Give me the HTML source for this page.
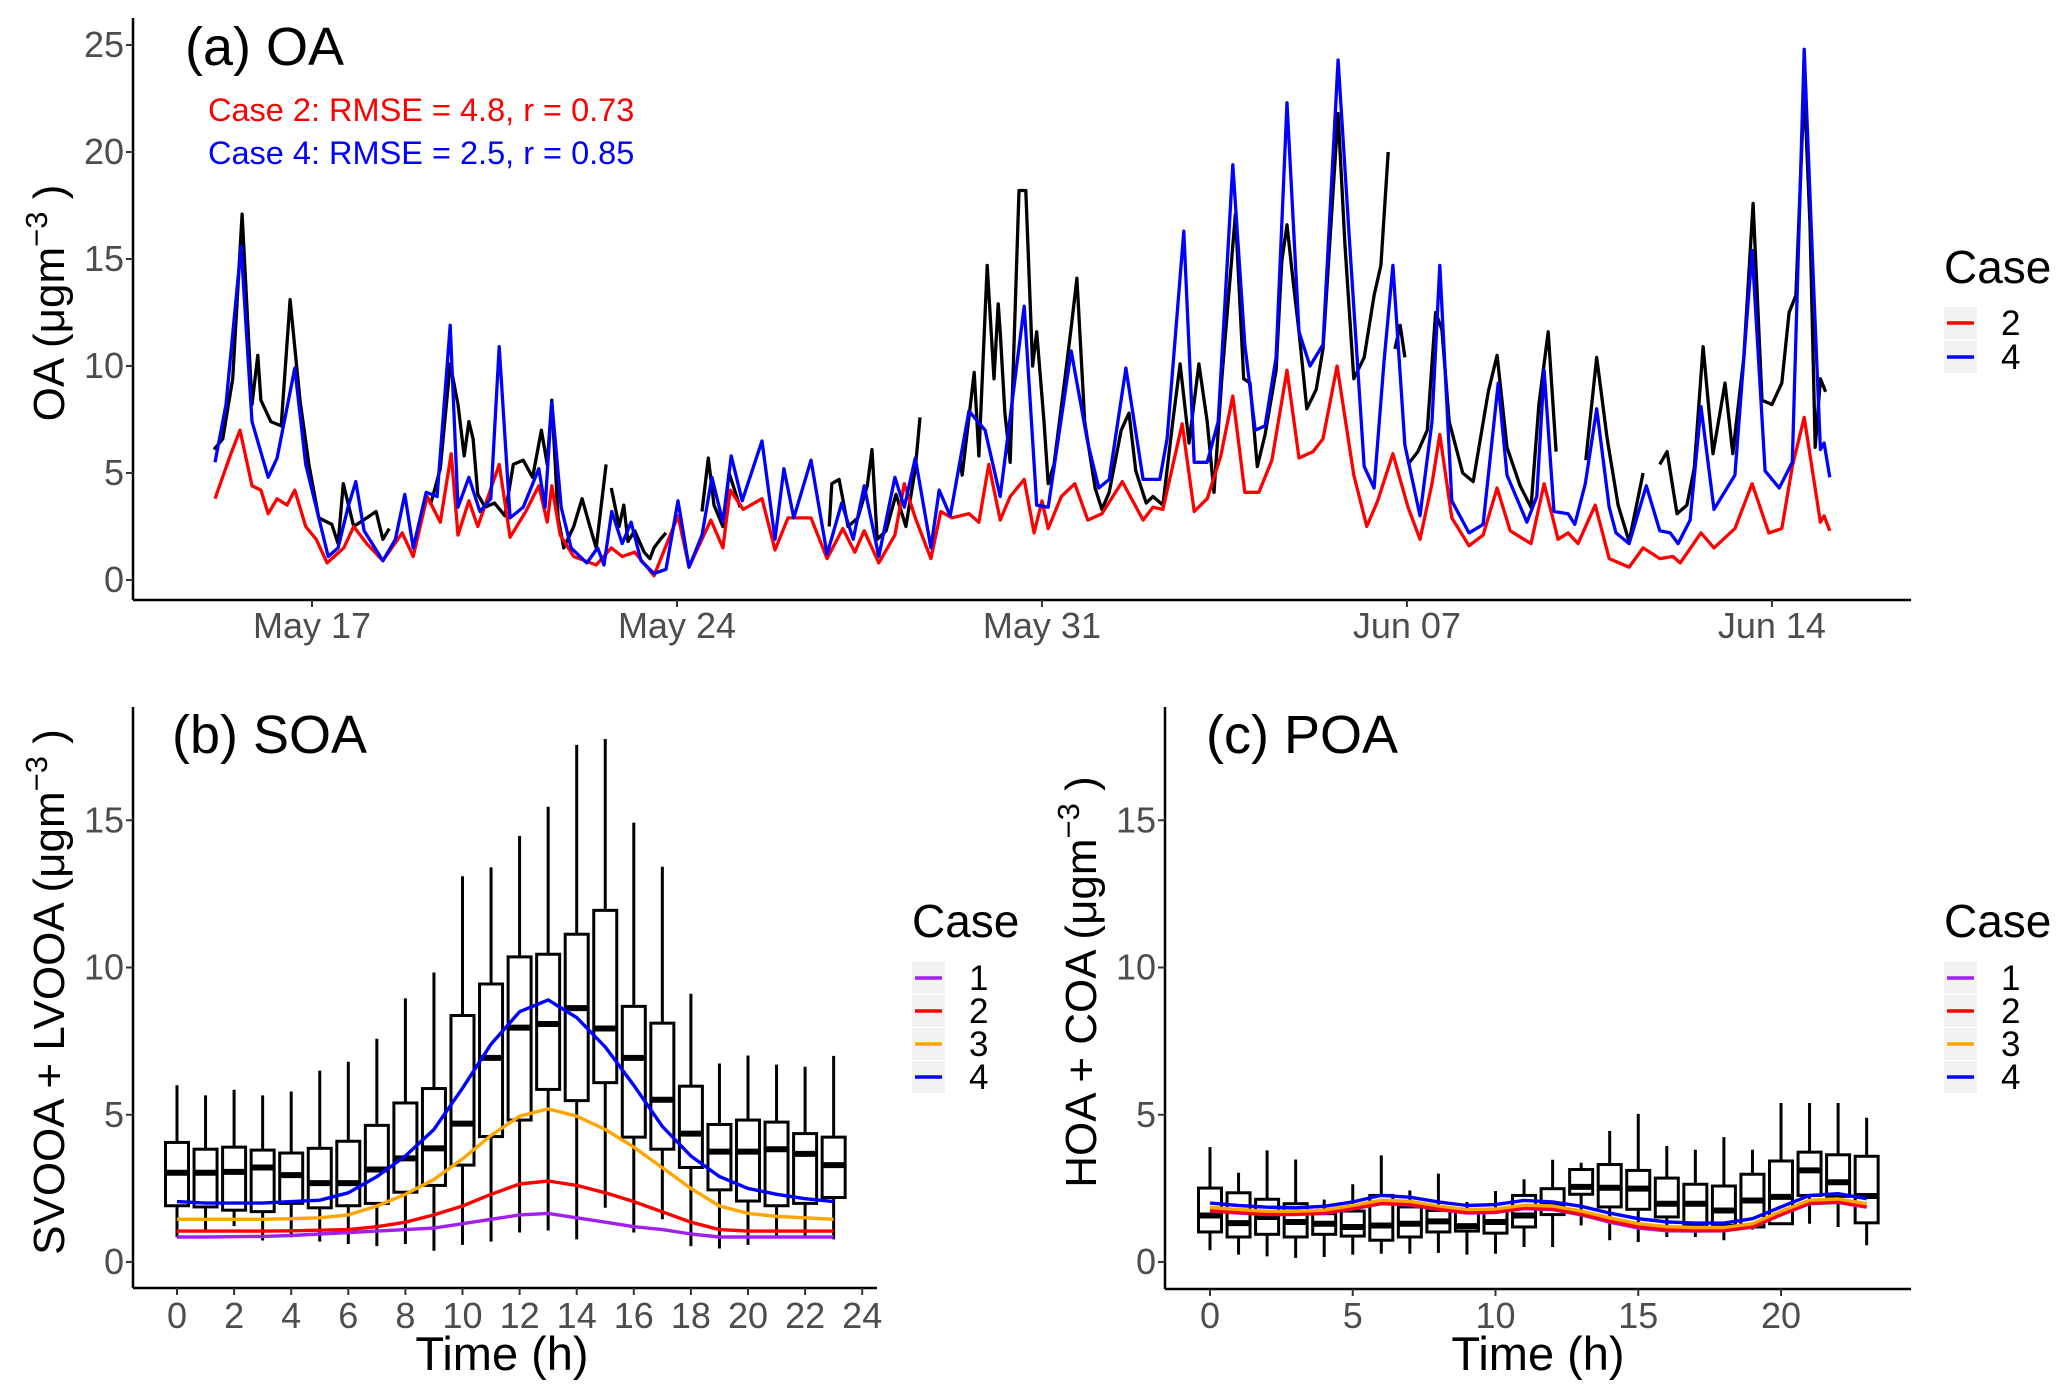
<!DOCTYPE html>
<html><head><meta charset="utf-8"><style>
html,body{margin:0;padding:0;background:#fff;}
svg{display:block;font-family:"Liberation Sans",Arial,sans-serif;}
</style></head><body>
<svg id="chart" width="2067" height="1396" viewBox="0 0 2067 1396" xmlns="http://www.w3.org/2000/svg">
<rect width="2067" height="1396" fill="#fff"/>
<g id="pa"></g>
<g id="pb"></g>
<g id="pc"></g>
<text x="185" y="65" font-size="54">(a) OA</text>
<text x="208" y="121" font-size="32.5" fill="#ff0000">Case 2: RMSE = 4.8, r = 0.73</text>
<text x="208" y="164" font-size="32.5" fill="#0000ff">Case 4: RMSE = 2.5, r = 0.85</text>
<text transform="translate(64,303) rotate(-90)" text-anchor="middle" font-size="44">OA (μgm<tspan baseline-shift="super" font-size="31">−3</tspan> )</text>
<text x="172" y="753" font-size="54">(b) SOA</text>
<text transform="translate(64,992) rotate(-90)" text-anchor="middle" font-size="44">SVOOA + LVOOA (μgm<tspan baseline-shift="super" font-size="31">−3</tspan> )</text>
<text x="502" y="1370" text-anchor="middle" font-size="47">Time (h)</text>
<text x="1206" y="753" font-size="54">(c) POA</text>
<text transform="translate(1096,982) rotate(-90)" text-anchor="middle" font-size="44">HOA + COA (μgm<tspan baseline-shift="super" font-size="31">−3</tspan> )</text>
<text x="1538" y="1370" text-anchor="middle" font-size="47">Time (h)</text>
<g id="legends"></g>
</svg>
<script>
const obsT = [15.12,15.29,15.48,15.66,15.85,15.96,16.02,16.21,16.41,16.58,16.77,16.94,17.13,17.38,17.5,17.6,17.8,18.05,18.23,18.36,18.48,null,
19.27,19.46,19.65,19.8,19.92,20.01,20.09,20.18,20.32,20.5,20.7,20.86,21.05,21.23,21.4,21.51,21.6,21.72,21.83,22.02,22.18,22.33,22.45,22.64,null,
22.74,22.89,22.98,23.06,23.19,23.37,23.48,23.56,23.68,23.79,null,
24.48,24.6,24.71,24.88,25.0,25.21,null,
26.92,26.97,27.11,27.28,27.47,27.65,27.74,27.84,28.01,28.2,28.39,28.57,28.66,null,
29.43,29.47,29.7,29.79,29.95,30.08,30.16,30.2,30.29,30.39,30.56,30.69,30.82,30.9,31.04,31.12,31.23,31.44,31.56,31.67,31.82,32.02,32.15,32.29,32.52,32.67,32.8,33.0,33.13,33.32,33.51,33.65,33.82,34.01,34.17,34.3,34.45,34.71,34.87,34.99,35.13,35.28,35.49,35.6,35.7,35.81,35.93,36.08,36.26,36.39,36.56,36.68,36.81,36.98,37.18,37.37,37.5,37.64,null,
37.77,37.87,37.96,null,
38.02,38.21,38.39,38.55,38.67,38.81,39.07,39.27,39.56,39.73,39.92,40.17,40.38,40.53,40.71,40.86,null,
41.43,41.64,41.84,42.05,42.26,42.53,null,
42.85,42.99,43.18,43.37,43.51,43.68,43.87,44.1,44.25,44.46,44.64,44.81,45.0,45.19,45.33,45.46,45.62,45.73,45.83,45.93,46.03];
const obsV = [6.1,6.6,9.4,17.1,8.2,10.5,8.4,7.4,7.2,13.1,8.4,5.4,2.9,2.6,1.7,4.5,2.5,2.9,3.2,1.9,2.4,null,
3.5,5.2,10.1,8.2,5.8,7.4,6.6,4.0,3.4,3.6,3.0,5.4,5.6,4.8,7.0,5.4,8.4,2.9,1.5,2.5,3.8,2.5,1.5,5.4,null,
4.3,2.5,3.5,1.8,2.3,1.3,1.0,1.5,1.9,2.2,null,
3.2,5.7,3.5,2.5,5.0,3.4,null,
2.5,4.5,4.7,2.5,2.9,4.4,6.1,1.9,2.3,4.0,2.5,5.2,7.6,null,
5.6,4.9,9.7,5.8,14.7,9.4,12.9,11.6,7.8,5.5,18.2,18.2,10.0,11.6,7.4,4.5,5.4,9.4,11.8,14.1,7.4,4.3,3.3,4.1,7.0,7.8,5.1,3.6,3.9,3.5,7.4,10.1,6.4,10.1,7.4,4.1,9.4,17.1,9.4,9.2,5.3,6.8,9.8,14.9,16.6,14.1,11.6,8.0,8.9,10.8,17.3,21.8,15.7,9.4,10.4,13.3,14.7,20.0,null,
10.8,11.9,10.4,null,
5.4,6.0,7.0,12.5,11.7,7.4,5.0,4.6,8.8,10.5,6.2,4.4,3.4,8.2,11.6,6.0,null,
5.6,10.4,6.6,3.5,1.8,5.0,null,
5.4,6.0,3.1,3.5,5.2,10.9,5.9,9.2,5.9,10.4,17.6,8.4,8.2,9.2,12.5,13.3,23.1,16.6,6.2,9.4,8.8];
const case4T = [15.14,15.35,15.64,15.85,16.16,16.33,16.67,16.88,17.08,17.31,17.5,17.69,17.84,18.0,18.36,18.6,18.78,18.94,19.19,19.4,19.65,19.8,20.01,20.22,20.43,20.59,20.8,21.05,21.35,21.47,21.6,21.78,21.97,22.27,22.48,22.6,22.75,22.95,23.12,23.31,23.56,23.79,24.02,24.23,24.48,24.67,24.88,25.04,25.25,25.63,25.88,26.05,26.24,26.57,26.88,27.16,27.38,27.59,27.87,28.18,28.36,28.57,28.87,29.03,29.24,29.6,29.91,30.2,30.66,30.9,31.12,31.56,31.88,32.09,32.29,32.61,32.94,33.26,33.4,33.72,33.92,34.17,34.38,34.66,34.89,35.09,35.28,35.49,35.7,35.93,36.14,36.39,36.68,36.91,37.18,37.37,37.56,37.73,37.96,38.25,38.48,38.63,38.86,39.19,39.46,39.75,39.92,40.3,40.49,40.63,40.82,41.09,41.22,41.42,41.64,41.88,42.01,42.26,42.59,42.85,43.05,43.2,43.43,43.64,43.89,44.29,44.62,44.87,45.14,45.39,45.62,45.79,45.93,46.0,46.11];
const case4V = [5.5,8.2,15.6,7.4,4.8,5.7,9.9,5.4,3.4,1.1,1.5,3.4,4.6,2.3,0.9,1.9,4.0,1.5,4.1,3.9,11.9,3.4,4.8,3.2,3.8,10.9,2.9,3.4,5.2,3.4,8.3,3.4,1.5,0.8,1.5,0.7,3.2,1.7,2.7,0.9,0.3,0.5,3.7,0.6,2.1,4.8,2.7,5.8,3.7,6.5,1.9,5.2,2.9,5.6,1.2,3.6,1.9,4.4,1.1,4.8,3.4,5.7,1.5,4.2,3.0,7.9,7.0,3.9,12.8,3.5,3.4,10.7,6.4,4.3,4.7,9.9,4.7,4.7,6.6,16.3,5.5,5.5,7.4,19.4,11.0,7.0,7.2,10.4,22.3,11.6,10.0,11.0,24.3,15.4,5.3,4.3,10.2,14.7,6.3,3.0,7.4,14.7,3.7,2.2,2.6,9.2,4.9,2.7,3.9,9.8,3.2,3.1,2.6,4.5,8.0,3.4,2.2,1.7,4.4,2.3,2.2,1.7,2.8,8.1,3.3,4.9,15.4,5.1,4.3,5.5,24.8,14.3,6.1,6.4,4.8];
const case2T = [15.14,15.43,15.62,15.85,16.02,16.16,16.33,16.52,16.67,16.88,17.08,17.29,17.61,17.8,18.05,18.36,18.73,18.94,19.21,19.46,19.67,19.8,20.01,20.18,20.59,20.8,21.1,21.35,21.51,21.6,21.76,22.02,22.45,22.74,22.95,23.19,23.56,24.02,24.23,24.65,24.88,25.02,25.27,25.63,25.88,26.13,26.57,26.88,27.18,27.41,27.59,27.87,28.18,28.36,28.57,28.87,29.06,29.27,29.6,29.79,29.98,30.2,30.39,30.66,30.85,31.0,31.12,31.37,31.63,31.88,32.15,32.54,32.94,33.13,33.32,33.69,33.92,34.17,34.43,34.66,34.89,35.16,35.41,35.7,35.93,36.2,36.39,36.66,36.98,37.23,37.44,37.73,38.02,38.25,38.48,38.63,38.86,39.19,39.46,39.73,39.98,40.38,40.63,40.9,41.09,41.28,41.61,41.88,42.26,42.53,42.85,43.1,43.24,43.64,43.89,44.29,44.62,44.94,45.19,45.39,45.62,45.93,46.0,46.11];
const case2V = [3.8,5.8,7.0,4.4,4.2,3.1,3.8,3.5,4.2,2.5,1.9,0.8,1.5,2.5,1.7,0.9,2.2,1.1,3.9,2.7,5.9,2.1,3.7,2.5,5.4,2.0,3.2,4.4,2.7,4.4,2.1,1.1,0.7,1.5,1.1,1.3,0.2,3.0,0.6,2.8,1.5,4.2,3.3,3.8,1.4,2.9,2.9,1.0,2.4,1.3,2.3,0.8,2.1,4.5,2.9,1.0,3.2,2.9,3.1,2.7,5.4,2.8,3.9,4.7,2.2,3.7,2.4,3.9,4.5,2.8,3.1,4.6,2.8,3.4,3.3,7.3,3.2,3.8,5.8,8.6,4.1,4.1,5.6,9.8,5.7,6.0,6.6,10.0,4.9,2.5,3.7,5.9,3.4,1.9,4.5,6.8,2.9,1.6,2.1,4.3,2.3,1.7,4.5,1.9,2.2,1.7,3.5,1.0,0.6,1.5,1.0,1.1,0.8,2.2,1.5,2.4,4.5,2.2,2.4,5.3,7.6,2.7,3.0,2.3];
const aYTicks = [0,5,10,15,20,25];
const aXTickDays = [17,24,31,38,45];
const aXTickLabels = ["May 17","May 24","May 31","Jun 07","Jun 14"];

const hours = [0,1,2,3,4,5,6,7,8,9,10,11,12,13,14,15,16,17,18,19,20,21,22,23];
const soaLo  = [0.84,1.07,1.22,0.73,0.84,0.69,0.61,0.54,0.61,0.38,0.58,0.69,1.0,1.07,0.77,1.84,1.0,1.45,0.54,0.46,0.58,0.84,0.84,0.77];
const soaQ1  = [1.91,1.87,1.76,1.71,1.99,1.84,1.91,1.99,2.37,2.6,3.29,4.26,4.82,5.86,5.48,6.09,4.24,3.83,3.21,2.45,2.07,1.91,1.99,2.19];
const soaMed = [3.03,3.03,3.06,3.21,2.95,2.68,2.68,3.14,3.52,3.86,4.7,6.93,7.96,8.08,8.62,7.93,6.93,5.51,4.36,3.75,3.75,3.83,3.67,3.29];
const soaQ3  = [4.06,3.83,3.9,3.8,3.7,3.86,4.1,4.64,5.4,5.89,8.37,9.44,10.36,10.45,11.13,11.94,8.68,8.11,5.97,4.67,4.82,4.75,4.36,4.24];
const soaHi  = [6.0,5.66,5.85,5.66,5.79,6.5,6.8,7.58,8.95,9.83,13.1,13.4,14.47,15.46,17.56,17.76,14.92,13.42,9.11,6.74,7.01,6.7,6.63,7.0];
const soaCase1 = [0.85,0.85,0.86,0.87,0.9,0.95,1.0,1.05,1.1,1.15,1.3,1.45,1.6,1.65,1.5,1.35,1.2,1.1,0.95,0.85,0.85,0.85,0.85,0.85];
const soaCase2 = [1.05,1.05,1.05,1.05,1.06,1.08,1.1,1.2,1.35,1.6,1.9,2.3,2.65,2.75,2.6,2.35,2.05,1.7,1.35,1.1,1.05,1.05,1.05,1.05];
const soaCase3 = [1.45,1.45,1.45,1.45,1.47,1.5,1.6,1.9,2.3,2.8,3.5,4.3,4.95,5.2,4.95,4.5,3.9,3.2,2.5,1.9,1.65,1.55,1.5,1.45];
const soaCase4 = [2.05,2.0,2.0,2.0,2.05,2.1,2.35,2.9,3.6,4.5,5.9,7.4,8.5,8.9,8.3,7.3,6.0,4.6,3.6,2.9,2.5,2.3,2.15,2.05];
const bXTicks = [0,2,4,6,8,10,12,14,16,18,20,22,24];
const bcYTicks = [0,5,10,15];

const poaLo  = [0.4,0.25,0.19,0.14,0.17,0.25,0.28,0.28,0.31,0.25,0.28,0.51,0.51,1.24,0.74,0.68,0.85,0.85,0.74,1.1,1.3,1.3,1.19,0.57];
const poaQ1  = [1.02,0.85,0.94,0.85,0.94,0.88,0.74,0.85,1.02,1.05,0.98,1.19,1.61,2.3,1.87,1.79,1.53,1.27,1.24,1.19,1.3,2.26,2.23,1.33];
const poaMed = [1.58,1.32,1.53,1.36,1.3,1.19,1.24,1.3,1.38,1.22,1.36,1.58,1.92,2.55,2.52,2.49,1.98,1.98,1.75,2.09,2.21,3.11,2.71,2.24];
const poaQ3  = [2.51,2.35,2.13,1.98,1.64,1.73,2.26,1.87,1.75,1.75,1.75,2.26,2.49,3.14,3.31,3.11,2.85,2.64,2.58,2.98,3.43,3.73,3.64,3.59];
const poaHi  = [3.9,3.03,3.79,3.48,2.12,2.64,3.62,2.43,3.0,2.04,2.41,2.81,3.47,3.37,4.45,5.03,3.94,3.81,4.24,3.81,5.4,5.4,5.4,4.9];
const poaCase1 = [1.73,1.66,1.61,1.61,1.65,1.8,1.98,1.94,1.78,1.66,1.68,1.81,1.78,1.6,1.35,1.15,1.06,1.05,1.06,1.18,1.6,1.98,2.02,1.86];
const poaCase2 = [1.75,1.68,1.63,1.63,1.67,1.82,2.0,1.96,1.8,1.68,1.7,1.83,1.8,1.63,1.4,1.2,1.1,1.07,1.07,1.2,1.62,2.0,2.04,1.88];
const poaCase3 = [1.85,1.78,1.72,1.72,1.76,1.92,2.1,2.06,1.9,1.78,1.8,1.93,1.9,1.73,1.5,1.3,1.2,1.17,1.17,1.3,1.72,2.1,2.14,1.98];
const poaCase4 = [2.0,1.92,1.86,1.84,1.89,2.04,2.26,2.2,2.04,1.92,1.95,2.09,2.04,1.89,1.66,1.47,1.36,1.32,1.32,1.47,1.87,2.26,2.32,2.15];
const cXTicks = [0,5,10,15,20];

const NS = 'http://www.w3.org/2000/svg';
function mk(tag, attrs, parent){
  const e = document.createElementNS(NS, tag);
  for (const k in attrs) e.setAttribute(k, attrs[k]);
  parent.appendChild(e);
  return e;
}
const COL = {c1:'#a020f0', c2:'#ff0000', c3:'#ffa500', c4:'#0000ff'};

const xa = d => 312 + (d - 17) * 52.14;
const ya = v => 580 - v * 21.4;
const xb = h => 177 + h * 28.55;
const xc = h => 1210 + h * 28.55;
const ybc = v => 1262 - v * 29.45;

function pathFrom(ts, vs, xs, ys){
  let d = '', pen = false;
  for (let i = 0; i < ts.length; i++){
    if (ts[i] === null || vs[i] === null){ pen = false; continue; }
    d += (pen ? 'L' : 'M') + xs(ts[i]).toFixed(1) + ',' + ys(vs[i]).toFixed(1);
    pen = true;
  }
  return d;
}

function axes(g, x0, x1, yTop, yBase, yTicks, ys, xTicks, xs, xLabels, labelY){
  const yl = mk('line', {x1:x0, y1:yTop, x2:x0, y2:yBase, stroke:'#000', 'stroke-width':2.5}, g);
  
  
  const xl = mk('line', {x1:x0, y1:yBase, x2:x1, y2:yBase, stroke:'#000', 'stroke-width':2.5}, g);
  
  
  yTicks.forEach(v => {
    const y = ys(v);
    const t = mk('line', {x1:x0-7, y1:y, x2:x0, y2:y, stroke:'#333', 'stroke-width':2}, g);
    
    
    const lb = mk('text', {x:x0-9, y:y+12, 'text-anchor':'end', 'font-size':36, fill:'#4d4d4d'}, g);
    lb.textContent = v;
    
    
  });
  xTicks.forEach((v, i) => {
    const x = xs(v);
    const t = mk('line', {x1:x, y1:yBase, x2:x, y2:yBase+7, stroke:'#333', 'stroke-width':2}, g);
    
    
    const lb = mk('text', {x:x, y:labelY, 'text-anchor':'middle', 'font-size':36, fill:'#4d4d4d'}, g);
    lb.textContent = xLabels ? xLabels[i] : v;
    
    
  });
}

const pa = document.getElementById('pa');
axes(pa, 133, 1911, 18, 600, aYTicks, ya, aXTickDays, xa, aXTickLabels, 638);
const lObs = mk('path', {d:pathFrom(obsT, obsV, xa, ya), fill:'none', stroke:'#000', 'stroke-width':3.3, 'stroke-linejoin':'round'}, pa);


const l2 = mk('path', {d:pathFrom(case2T, case2V, xa, ya), fill:'none', stroke:COL.c2, 'stroke-width':3.3, 'stroke-linejoin':'round'}, pa);


const l4 = mk('path', {d:pathFrom(case4T, case4V, xa, ya), fill:'none', stroke:COL.c4, 'stroke-width':3.3, 'stroke-linejoin':'round'}, pa);



function boxes(g, xs, lo, q1, med, q3, hi){
  hours.forEach((h, i) => {
    const x = xs(h), w = 23;
    const wk = mk('line', {x1:x, y1:ybc(hi[i]), x2:x, y2:ybc(lo[i]), stroke:'#000', 'stroke-width':3}, g);
    
    
    const bx = mk('rect', {x:x-w/2, y:ybc(q3[i]), width:w, height:ybc(q1[i])-ybc(q3[i]), fill:'#fff', stroke:'#000', 'stroke-width':3}, g);
    
    
    const md = mk('line', {x1:x-w/2, y1:ybc(med[i]), x2:x+w/2, y2:ybc(med[i]), stroke:'#000', 'stroke-width':6}, g);
    
    
  });
}
function caseLines(g, xs, arrs){
  [['c1','case1-line'],['c2','case2-line'],['c3','case3-line'],['c4','case4-line']].forEach((c, k) => {
    const p = mk('path', {d:pathFrom(hours, arrs[k], xs, ybc), fill:'none', stroke:COL[c[0]], 'stroke-width':3.4, 'stroke-linejoin':'round'}, g);
    
    
  });
}

const pb = document.getElementById('pb');
axes(pb, 133, 877, 707, 1288, bcYTicks, ybc, bXTicks, xb, null, 1328);
boxes(pb, xb, soaLo, soaQ1, soaMed, soaQ3, soaHi);
caseLines(pb, xb, [soaCase1, soaCase2, soaCase3, soaCase4]);

const pc = document.getElementById('pc');
axes(pc, 1165, 1911, 707, 1289, bcYTicks, ybc, cXTicks, xc, null, 1328);
boxes(pc, xc, poaLo, poaQ1, poaMed, poaQ3, poaHi);
caseLines(pc, xc, [poaCase1, poaCase2, poaCase3, poaCase4]);

const lg = document.getElementById('legends');
function legend(x, titleY, entries, ys){
  const t = mk('text', {x:x, y:titleY+16, 'font-size':46}, lg);
  t.textContent = 'Case';
  
  
  entries.forEach((en, i) => {
    const y = ys[i];
    const bg = mk('rect', {x:x, y:y-16, width:33, height:32, fill:'#f2f2f2'}, lg);
    
    
    const ln = mk('line', {x1:x+3, y1:y, x2:x+30, y2:y, stroke:COL[en[0]], 'stroke-width':3.5}, lg);
    
    
    const lb = mk('text', {x:x+57, y:y+12, 'font-size':35}, lg);
    lb.textContent = en[1];
    
    
  });
}
legend(1944, 267, [['c2','2'],['c4','4']], [323, 357]);
legend(912, 921, [['c1','1'],['c2','2'],['c3','3'],['c4','4']], [978, 1011, 1044, 1077]);
legend(1944, 921, [['c1','1'],['c2','2'],['c3','3'],['c4','4']], [978, 1011, 1044, 1077]);
</script>
</body></html>
